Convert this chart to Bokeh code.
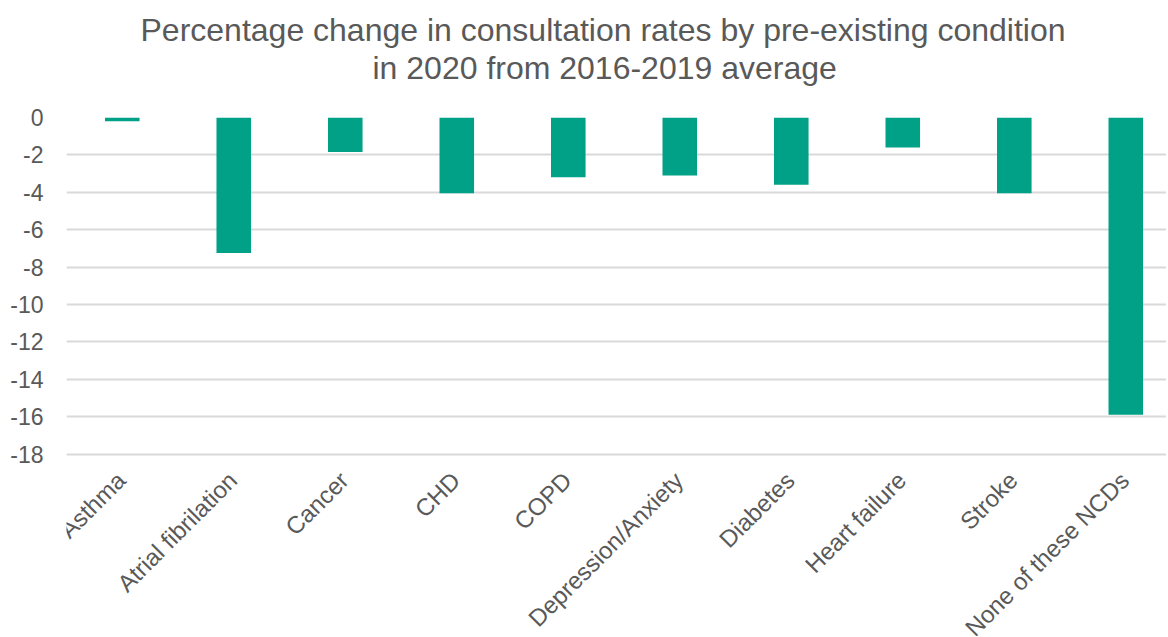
import math
from bokeh.plotting import figure
from bokeh.models import Range1d, FixedTicker, Title, LabelSet, ColumnDataSource
from bokeh.core.properties import value
from bokeh.embed import file_html
from bokeh.resources import INLINE

categories = ["Asthma", "Atrial fibrilation", "Cancer", "CHD", "COPD",
              "Depression/Anxiety", "Diabetes", "Heart failure", "Stroke",
              "None of these NCDs"]
values = [-0.2, -7.25, -1.85, -4.05, -3.2, -3.1, -3.6, -1.6, -4.05, -15.9]
y_ticks = [0, -2, -4, -6, -8, -10, -12, -14, -16, -18]
title_lines = ["Percentage change in consultation rates by pre-existing condition",
               "in 2020 from 2016-2019 average"]

FONT = "Liberation Sans"
GREY = "#595959"
BAR = "#00A186"

xs = list(range(len(categories)))
y_min, y_max = y_ticks[-1], y_ticks[0]

# the frame extends below the last tick so that the rotated category labels
# (drawn through the scales) fit inside it
p = figure(width=1166, height=636, output_backend="svg", toolbar_location=None,
           x_range=Range1d(-0.5, 9.365), y_range=Range1d(-27.75, y_max),
           min_border_left=66, min_border_right=0, min_border_top=117,
           min_border_bottom=0, outline_line_color=None)

p.vbar(x=xs, top=values, bottom=0, width=0.31, fill_color=BAR, line_color=None)

# spacer between plot area and title
p.add_layout(Title(text=" ", text_font=FONT, text_font_size="26px", standoff=0), "above")
for txt, off in reversed(list(zip(title_lines, [74, 306]))):
    p.add_layout(Title(text=txt, align="left", text_font=FONT, offset=off,
                       text_font_size="32px", text_font_style="normal",
                       text_color=GREY, standoff=0), "above")

# category labels (rotated), placed via the x scale
lab_src = ColumnDataSource(dict(x=xs, y=[y_min] * len(xs), cat=categories))
p.add_layout(LabelSet(x="x", y="y", text="cat", source=lab_src, angle=math.pi / 4,
                      text_align="right", text_baseline="middle",
                      x_offset=-1, y_offset=-22, text_font=value(FONT),
                      text_font_size=value("24px"), text_color=GREY))

p.xaxis.visible = False

p.yaxis.ticker = FixedTicker(ticks=y_ticks)
p.yaxis.major_label_overrides = {t: str(t) for t in y_ticks}
p.yaxis.axis_line_color = None
p.yaxis.major_tick_line_color = None
p.yaxis.minor_tick_line_color = None
p.yaxis.major_label_text_font = FONT
p.yaxis.major_label_text_font_size = "23px"
p.yaxis.major_label_text_color = GREY
p.yaxis.major_label_standoff = 17

p.xgrid.grid_line_color = None
p.ygrid.ticker = FixedTicker(ticks=y_ticks)
p.ygrid.grid_line_color = "#D9D9D9"
p.ygrid.grid_line_width = 2

open("out.html", "w").write(file_html(p, INLINE))
